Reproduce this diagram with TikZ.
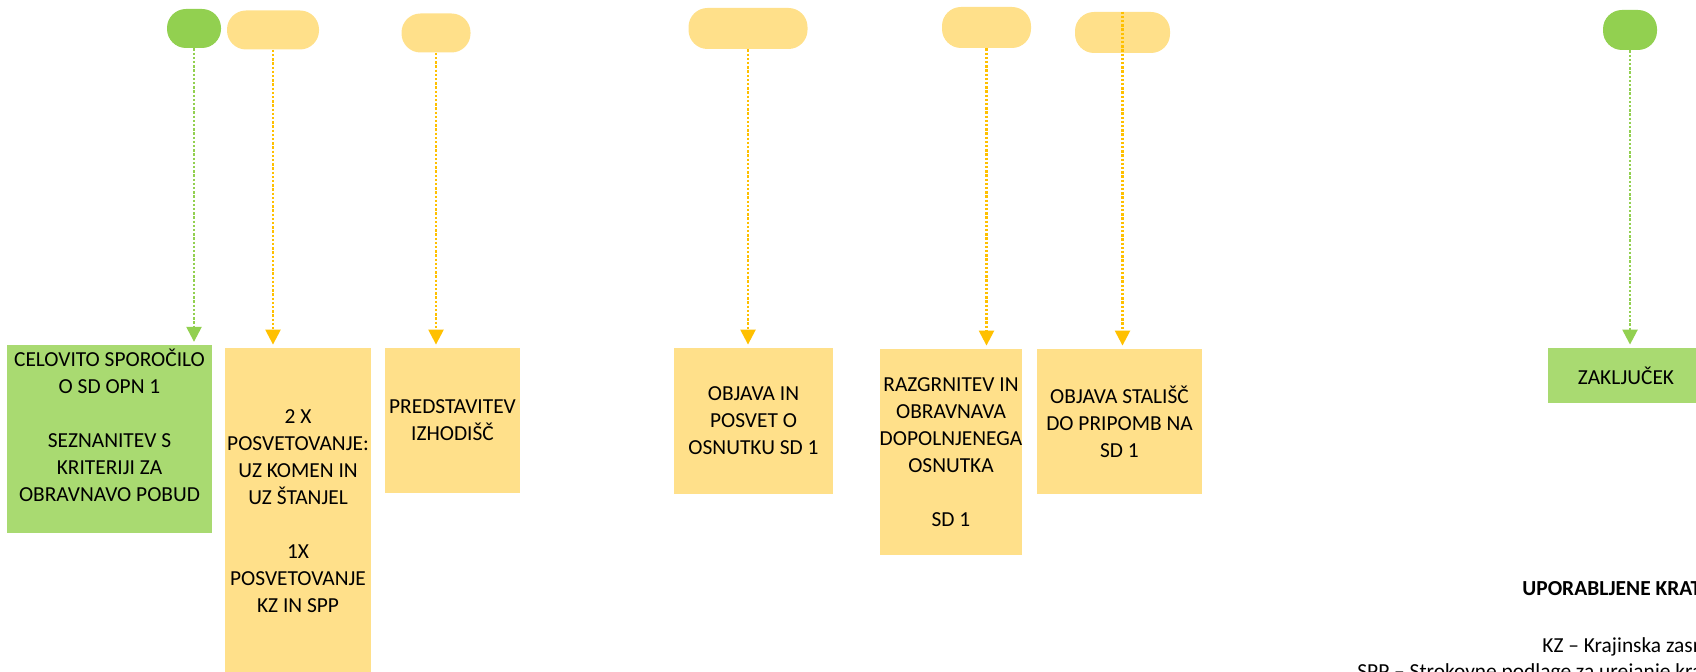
\documentclass[tikz,border=0pt]{standalone}
\usepackage{fontspec}
\setmainfont{Carlito}
\usepackage{tikz}
\usetikzlibrary{arrows.meta}

\definecolor{pillgreen}{HTML}{92D050}
\definecolor{boxgreen}{HTML}{A9DA71}
\definecolor{pillyellow}{HTML}{FFE08A}
\definecolor{linegold}{HTML}{FFC000}

\begin{document}
\begin{tikzpicture}[x=0.5pt,y=-0.5pt,
	every node/.style={font=\fontsize{10.7}{13.5}\selectfont},
	pill/.style={rounded corners=9.5pt,inner sep=0pt,minimum height=19.5pt},
	stage/.style={fill=pillyellow,inner xsep=0pt,inner ysep=2pt,align=center},
	link/.style={line width=1.2pt,dash pattern=on 1.2pt off 0.9pt,
		-{Triangle[width=7.5pt,length=7.5pt]},shorten >=1.5pt},
	note/.style={anchor=base west,inner sep=0pt}]

	\useasboundingbox (0,0) rectangle (1696,672);
	\clip (0,0) rectangle (1696,672);

	% pills along the top

	\node[pill,fill=pillgreen,minimum width=27pt] (g1) at (194,28.5) {};
	\node[pill,fill=pillyellow,minimum width=46pt] (y1) at (273,30) {};
	\node[pill,fill=pillyellow,minimum width=34.5pt] (y2) at (436,33) {};
	\node[pill,fill=pillyellow,minimum width=59.5pt,minimum height=20.5pt] (y3) at (748,28.5) {};
	\node[pill,fill=pillyellow,minimum width=44.5pt,minimum height=20.5pt] (y4) at (986.5,27.5) {};
	\node[pill,fill=pillyellow,minimum width=47.5pt,minimum height=20.5pt] (y5) at (1122.5,32.5) {};
	\node[pill,fill=pillgreen,minimum width=27pt,minimum height=20pt] (g2) at (1630,30) {};

	% stage boxes

	\node[stage,fill=boxgreen,minimum width=102.5pt,minimum height=92pt] (sporocilo) at (109.5,439)
		{CELOVITO SPOROČILO\\O SD OPN 1\\[13.5pt]SEZNANITEV S\\KRITERIJI ZA\\OBRAVNAVO POBUD\\~};
	\node[stage,minimum width=73pt,minimum height=163pt] (posvet) at (298,511)
		{2 X\\POSVETOVANJE:\\UZ KOMEN IN\\UZ ŠTANJEL\\[13.5pt]1X\\POSVETOVANJE\\KZ IN SPP};
	\node[stage,minimum width=67.5pt,minimum height=72.5pt] (izhodisca) at (452.5,420.5)
		{PREDSTAVITEV\\IZHODIŠČ};
	\node[stage,minimum width=79.5pt,minimum height=73pt] (osnutek) at (753.5,421)
		{OBJAVA IN\\POSVET O\\OSNUTKU SD 1};
	\node[stage,minimum width=71pt,minimum height=103pt] (razgrnitev) at (951,452)
		{RAZGRNITEV IN\\OBRAVNAVA\\DOPOLNJENEGA\\OSNUTKA\\[13.5pt]SD 1};
	\node[stage,minimum width=82.5pt,minimum height=72.5pt] (stalisca) at (1119.5,421.5)
		{OBJAVA STALIŠČ\\DO PRIPOMB NA\\SD 1};
	\node[stage,fill=boxgreen,minimum width=78pt,minimum height=27.5pt] (zakljucek) at (1626,375.5)
		{ZAKLJUČEK};

	% dotted links

	\draw[link,pillgreen] (g1.south) -- (g1.south |- sporocilo.north);
	\draw[link,linegold] (y1.south) -- (y1.south |- posvet.north);
	\draw[link,linegold] (y2.south) -- (y2.south |- izhodisca.north);
	\draw[link,linegold] (y3.south) -- (y3.south |- osnutek.north);
	\draw[link,linegold] (y4.south) -- (y4.south |- razgrnitev.north);
	\draw[link,linegold] (y5.north) -- (y5.north |- stalisca.north);
	\draw[link,pillgreen] (g2.south) -- (g2.south |- zakljucek.north);

	% abbreviations

	\node[note,font=\fontsize{10.7}{13.5}\selectfont\bfseries] (kratice) at (1522,596) {UPORABLJENE KRATICE};
	\node[note] (kz) at (1542,653) {KZ – Krajinska zasnova};
	\node[note] (spp) at (1357,678) {SPP – Strokovne podlage za urejanje krajine};

\end{tikzpicture}
\end{document}
